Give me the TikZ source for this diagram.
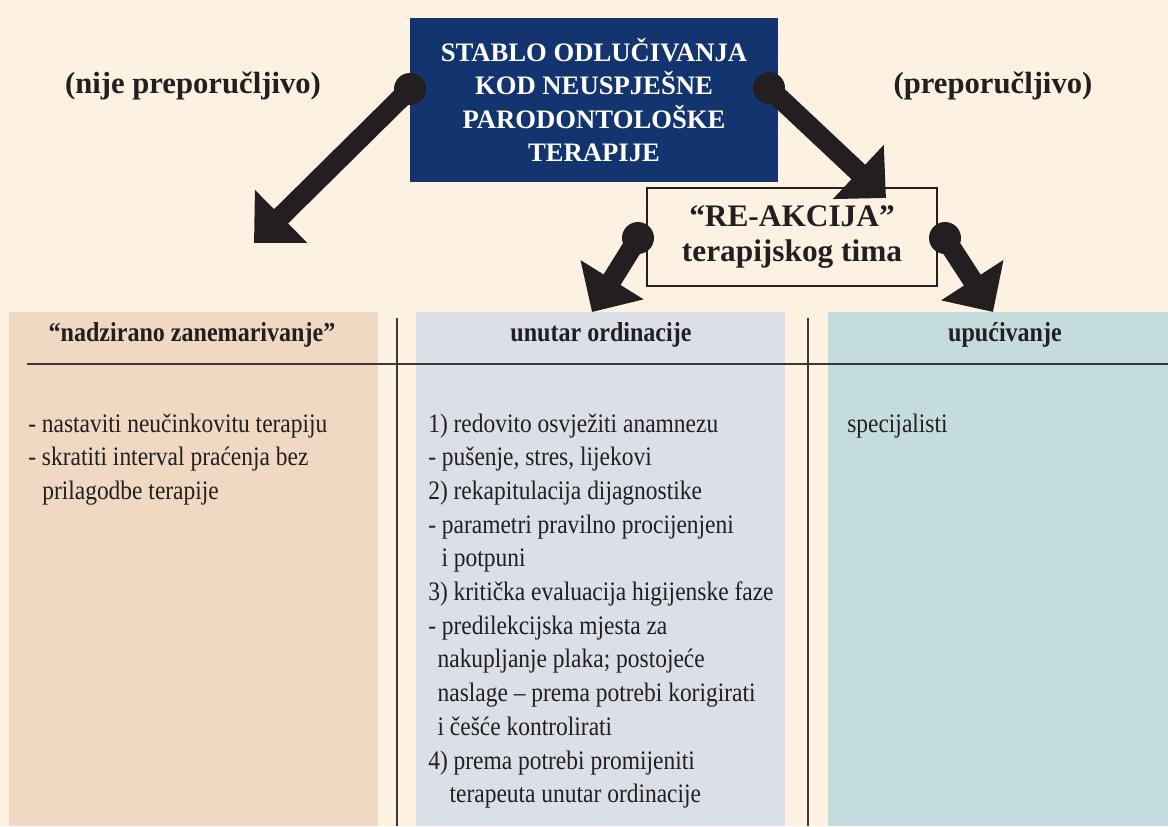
\documentclass[tikz,border=0pt]{standalone}
\usepackage{fontspec}
\setmainfont{Liberation Serif}
\newfontfamily\narrowfont[FakeStretch=0.88]{Liberation Serif}
\usetikzlibrary{arrows.meta}

\definecolor{cream}{HTML}{FDF1E2}
\definecolor{navy}{HTML}{13346F}
\definecolor{ink}{HTML}{231F20}
\definecolor{peach}{HTML}{F0D8C2}
\definecolor{mist}{HTML}{DADFE8}
\definecolor{teal}{HTML}{C5DCDF}
\definecolor{rule}{HTML}{3B3838}

\begin{document}
\begin{tikzpicture}[x=0.75pt, y=-0.75pt,
    every node/.style={text=ink},
    title/.style={fill=navy, text=white, font=\bfseries\fontsize{20}{25}\selectfont,
        align=center, minimum width=276pt, minimum height=123pt, inner sep=0pt},
    reaction/.style={draw=ink, line width=0.8pt, fill=cream, font=\bfseries\fontsize{23.5}{26}\selectfont,
        align=center, minimum width=217.5pt, minimum height=73.5pt, inner sep=0pt},
    side/.style={font=\bfseries\fontsize{23}{26}\selectfont, anchor=base, inner sep=0pt},
    head/.style={font=\narrowfont\bfseries\fontsize{20.5}{22}\selectfont, anchor=base, inner sep=0pt},
    body/.style={font=\narrowfont\fontsize{20}{25}\selectfont, anchor=base west, inner sep=0pt},
    dot/.style={circle, fill=ink, minimum size=24pt, inner sep=0pt},
    bigarrow/.style={draw=ink, line width=15pt, -{Triangle[length=28.5pt, width=54pt]}}]

    % Background
    \useasboundingbox (0,0) rectangle (1168,826);
    \fill[cream] (0,0) rectangle (1168,826);

    % Columns
    \fill[peach] (9,312) rectangle (378,826);
    \fill[mist] (416,312) rectangle (785,826);
    \fill[teal] (828,312) rectangle (1168,826);
    \draw[rule, line width=1.1pt] (27,364) -- (1168,364);
    \foreach \x in {397,808} {
        \draw[rule, line width=1.1pt] (\x,318) -- (\x,826);
    }

    % Boxes
    \node[title] (tree) at (594,100) {STABLO ODLUČIVANJA\\KOD NEUSPJEŠNE\\PARODONTOLOŠKE\\TERAPIJE};
    \node[reaction] (react) at (792,237) {“RE-AKCIJA”\\terapijskog tima};

    % Side labels
    \node[side] (no) at (193,93) {(nije preporučljivo)};
    \node[side] (yes) at (993,93) {(preporučljivo)};

    % Column headers
    \node[head] (h1) at (192,341) {“nadzirano zanemarivanje”};
    \node[head] (h2) at (601,341) {unutar ordinacije};
    \node[head] (h3) at (1005,341) {upućivanje};

    % Column texts
    \foreach \txt [count=\i] in {{- nastaviti neučinkovitu terapiju},
        {- skratiti interval praćenja bez}, {\hspace*{10.5pt}prilagodbe terapije}} {
        \node[body] (l\i) at (28,432+33.7*\i-33.7) {\txt};
    }
    \foreach \txt [count=\i] in {{1) redovito osvježiti anamnezu},
        {- pušenje, stres, lijekovi},
        {2) rekapitulacija dijagnostike},
        {- parametri pravilno procijenjeni},
        {\hspace*{10pt}i potpuni},
        {3) kritička evaluacija higijenske faze},
        {- predilekcijska mjesta za},
        {\hspace*{7pt}nakupljanje plaka; postojeće},
        {\hspace*{7pt}naslage – prema potrebi korigirati},
        {\hspace*{7pt}i češće kontrolirati},
        {4) prema potrebi promijeniti},
        {\hspace*{16pt}terapeuta unutar ordinacije}} {
        \node[body] (m\i) at (428,432+33.7*\i-33.7) {\txt};
    }
    \node[body] (r1) at (847,432) {specijalisti};

    % Arrows
    \node[dot] (d1) at (410,89) {};
    \node[dot] (d2) at (769,88) {};
    \node[dot] (d3) at (638,238) {};
    \node[dot] (d4) at (945,238) {};
    \coordinate (t1) at (254,243);
    \coordinate (t2) at (886,198);
    \coordinate (t3) at (592,312);
    \coordinate (t4) at (993,312);
    \foreach \i in {1,...,4} {
        \draw[bigarrow] (d\i.center) -- (t\i);
    }
\end{tikzpicture}
\end{document}
